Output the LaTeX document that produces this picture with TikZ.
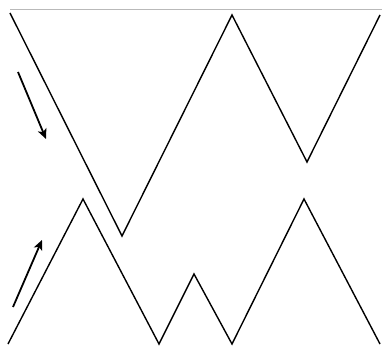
\documentclass[tikz,border=0pt]{standalone}
\usepackage{tikz}
\usetikzlibrary{arrows.meta}

\begin{document}
\begin{tikzpicture}[
  x=1pt, y=1pt,
  zig/.style={line width=1.4pt, line join=miter},
  rim/.style={draw=gray!55, line width=0.9pt},
  arr/.style={-{Stealth[length=10pt, width=9pt, inset=2.5pt]}, line width=1.8pt}
]
\useasboundingbox (0,0) rectangle (382,345);
% top edge
\coordinate (rimL) at (10,336);
\coordinate (rimR) at (382,336);
\draw[rim] (rimL) -- (rimR);

% upper zigzag
\coordinate (u0) at (10,332);
\coordinate (u1) at (122,109);
\coordinate (u2) at (232,330);
\coordinate (u3) at (307,183);
\coordinate (u4) at (380,330);
\draw[zig] (u0) -- (u1) -- (u2) -- (u3) -- (u4);

% lower zigzag
\coordinate (l0) at (8,1);
\coordinate (l1) at (83,146);
\coordinate (l2) at (159,1);
\coordinate (l3) at (194,71);
\coordinate (l4) at (232,1);
\coordinate (l5) at (304,146);
\coordinate (l6) at (380,1);
\draw[zig] (l0) -- (l1) -- (l2) -- (l3) -- (l4) -- (l5) -- (l6);

% direction arrows
\coordinate (downA) at (18,273);
\coordinate (downB) at (46,206);
\coordinate (upA) at (13,38);
\coordinate (upB) at (42,105);
\draw[arr] (downA) -- (downB);
\draw[arr] (upA) -- (upB);
\end{tikzpicture}
\end{document}
